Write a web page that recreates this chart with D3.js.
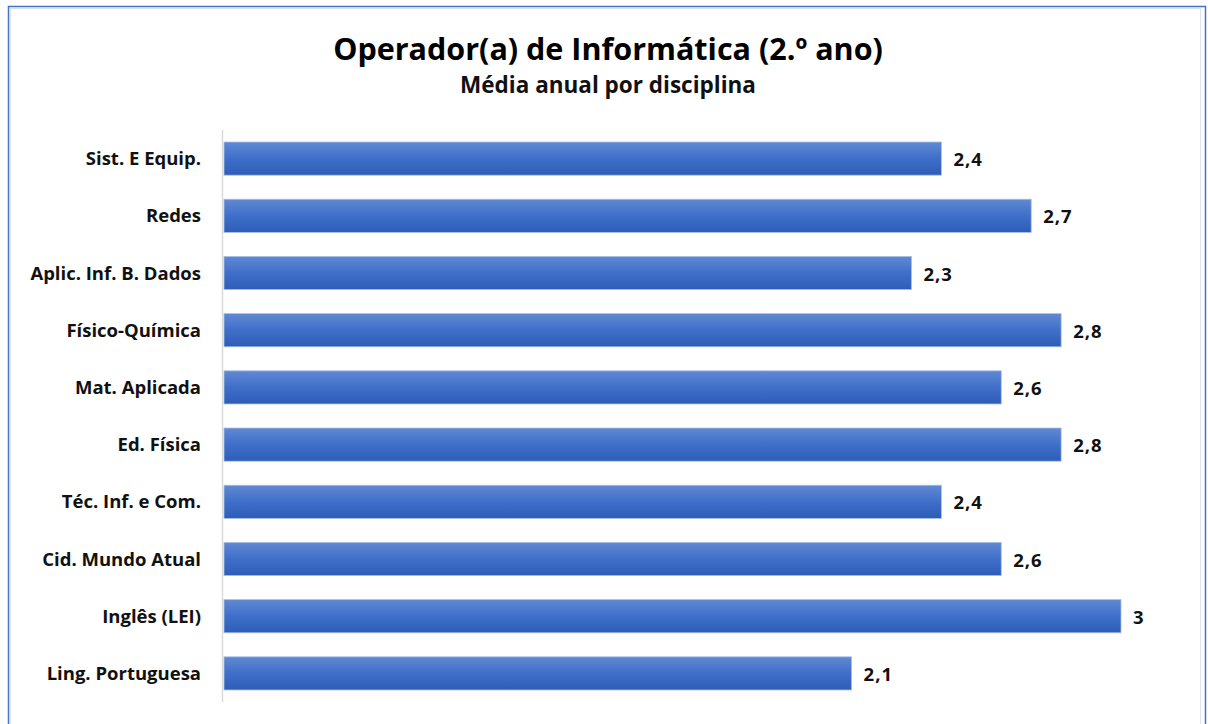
<!DOCTYPE html>
<html><head><meta charset="utf-8">
<script src="https://cdnjs.cloudflare.com/ajax/libs/d3/7.8.5/d3.min.js"></script>
<style>body{margin:0;background:#fff}svg{display:block}</style>
</head><body>
<script>
const categories = ["Sist. E Equip.","Redes","Aplic. Inf. B. Dados","Físico-Química","Mat. Aplicada","Ed. Física","Téc. Inf. e Com.","Cid. Mundo Atual","Inglês (LEI)","Ling. Portuguesa"];
const values = [2.4,2.7,2.3,2.8,2.6,2.8,2.4,2.6,3,2.1];
const title = "Operador(a) de Informática (2.º ano)";
const subtitle = "Média anual por disciplina";

const W=1208,H=724;
const svg=d3.select("body").append("svg").attr("width",W).attr("height",H);
const defs=svg.append("defs");
const g=defs.append("linearGradient").attr("id","bg").attr("x1",0).attr("y1",0).attr("x2",0).attr("y2",1);
g.append("stop").attr("offset","0%").attr("stop-color","#6189d3");
g.append("stop").attr("offset","50%").attr("stop-color","#3f6fc9");
g.append("stop").attr("offset","100%").attr("stop-color","#2d5db6");

// frame
svg.append("rect").attr("x",8.5).attr("y",6.5).attr("width",1197).attr("height",740).attr("fill","none").attr("stroke","#4472c4").attr("stroke-width",1.5);
svg.append("rect").attr("x",10.5).attr("y",8.5).attr("width",1190).attr("height",740).attr("fill","none").attr("stroke","#d9e2f3").attr("stroke-width",1);

const font="'Open Sans', 'Noto Sans', sans-serif";
svg.append("text").attr("x",608).attr("y",60).attr("text-anchor","middle").attr("font-family",font).attr("font-weight",700).attr("font-size",30.5).attr("fill","#000").text(title);
svg.append("text").attr("x",608).attr("y",93).attr("text-anchor","middle").attr("font-family",font).attr("font-weight",700).attr("font-size",22.5).attr("fill","#111").text(subtitle);

const x=d3.scaleLinear().domain([0,3]).range([223,1121]);
const y=d3.scaleBand().domain(categories).range([130,702]).paddingInner(0.42).paddingOuter(0.21);

svg.append("line").attr("x1",222.5).attr("x2",222.5).attr("y1",130).attr("y2",702).attr("stroke","#d9d9d9").attr("stroke-width",1.5);

svg.selectAll("rect.bar").data(values).join("rect").attr("class","bar")
  .attr("x",x(0)+1).attr("y",(d,i)=>y(categories[i]))
  .attr("width",d=>x(d)-x(0)-1).attr("height",y.bandwidth())
  .attr("fill","url(#bg)").attr("stroke","#a9bfe6").attr("stroke-width",0.8);

svg.selectAll("text.val").data(values).join("text").attr("class","val")
  .attr("x",d=>x(d)+12).attr("y",(d,i)=>y(categories[i])+y.bandwidth()/2+7.5)
  .attr("font-family",font).attr("font-weight",700).attr("font-size",18.5).attr("letter-spacing",1).attr("fill","#111")
  .text(d=>String(d).replace(".",","));

svg.selectAll("text.cat").data(categories).join("text").attr("class","cat")
  .attr("x",201).attr("y",d=>y(d)+y.bandwidth()/2+6.5)
  .attr("text-anchor","end").attr("font-family",font).attr("font-weight",700).attr("font-size",18.5).attr("fill","#111")
  .text(d=>d);
</script>
</body></html>
